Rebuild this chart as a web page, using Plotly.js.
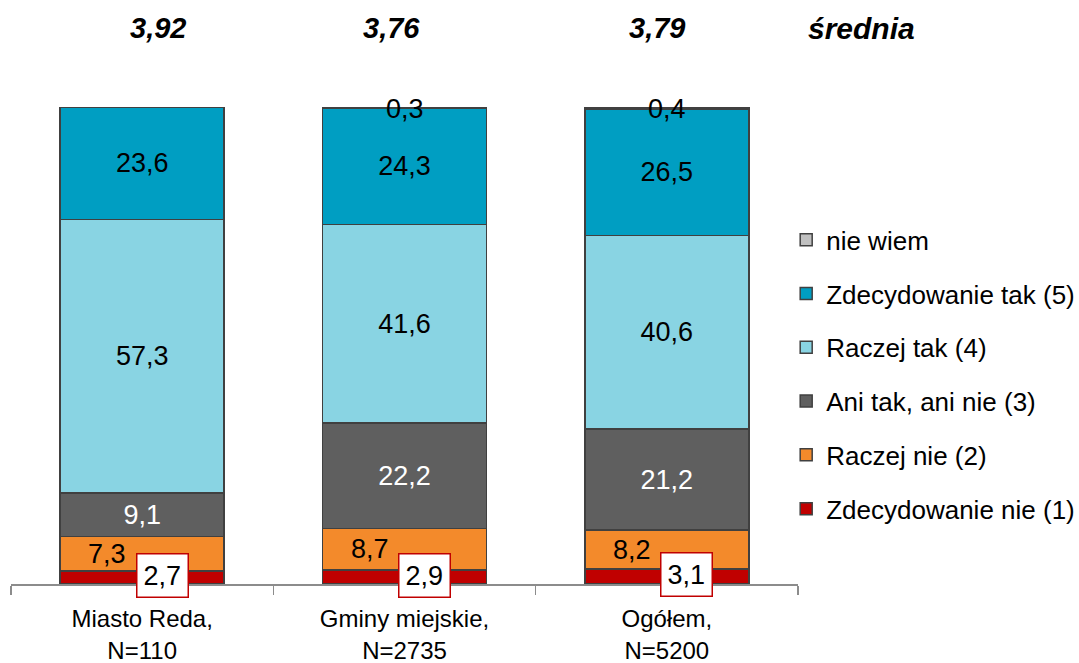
<!DOCTYPE html>
<html>
<head>
<meta charset="utf-8">
<script src="https://cdn.plot.ly/plotly-3.0.1.min.js"></script>
<style>html,body{margin:0;padding:0;background:#fff;}#chart{width:1079px;height:663px;}</style>
</head>
<body>
<div id="chart"></div>
<script>
const categories = ["Miasto Reda,<br>N=110", "Gminy miejskie,<br>N=2735", "Ogółem,<br>N=5200"];
const seriesNames = ["Zdecydowanie nie (1)", "Raczej nie (2)", "Ani tak, ani nie (3)", "Raczej tak (4)", "Zdecydowanie tak (5)", "nie wiem"];
const zdecydowanieNie = [2.7, 2.9, 3.1];
const raczejNie = [7.3, 8.7, 8.2];
const aniTakAniNie = [9.1, 22.2, 21.2];
const raczejTak = [57.3, 41.6, 40.6];
const zdecydowanieTak = [23.6, 24.3, 26.5];
const nieWiem = [0, 0.3, 0.4];
const means = [3.92, 3.76, 3.79];
const meanLabel = "średnia";

const FONT = '"Liberation Sans", Arial, sans-serif';
const fmt = v => v.toFixed(1).replace('.', ',');
const colors = ["#C00000", "#F38A2B", "#5F5F5F", "#89D4E3", "#009EC2", "#C0C0C0"];
const series = [zdecydowanieNie, raczejNie, aniTakAniNie, raczejTak, zdecydowanieTak, nieWiem];
const insideText = [false, false, true, true, true, false];
const textColors = ["#000", "#000", "#fff", "#000", "#000", "#000"];
const LABEL_SIZE = 27;

const traces = series.map((vals, i) => ({
  type: 'bar',
  name: seriesNames[i],
  x: categories,
  y: vals,
  legendgroup: 'g' + i,
  legendrank: 1000 - i,
  marker: {color: colors[i], line: {color: '#404040', width: 1.5}},
  text: insideText[i] ? vals.map(fmt) : undefined,
  textposition: insideText[i] ? 'inside' : 'none',
  insidetextanchor: 'middle',
  textangle: 0,
  constraintext: 'none',
  textfont: {family: FONT, size: LABEL_SIZE, color: textColors[i]},
  hoverinfo: 'skip'
}));

const annotations = [];
categories.forEach((c, k) => {
  annotations.push({
    xref: 'x', yref: 'y', x: c, y: zdecydowanieNie[k] / 2,
    text: fmt(zdecydowanieNie[k]), showarrow: false, xshift: 20, yshift: 2,
    font: {family: FONT, size: LABEL_SIZE, color: '#000'},
    bgcolor: '#fff', bordercolor: '#C00000', borderwidth: 1.5, borderpad: 6
  });
  annotations.push({
    xref: 'x', yref: 'y', x: c, y: zdecydowanieNie[k] + raczejNie[k] / 2,
    text: fmt(raczejNie[k]), showarrow: false, xshift: -35,
    font: {family: FONT, size: LABEL_SIZE, color: '#000'}
  });
  if (nieWiem[k] > 0) {
    const top = zdecydowanieNie[k] + raczejNie[k] + aniTakAniNie[k] + raczejTak[k] + zdecydowanieTak[k] + nieWiem[k];
    annotations.push({
      xref: 'x', yref: 'y', x: c, y: top, yanchor: 'middle',
      text: fmt(nieWiem[k]), showarrow: false, yshift: -2,
      font: {family: FONT, size: LABEL_SIZE, color: '#000'}
    });
  }
});
const meanShift = [16, -13, -10];
categories.forEach((c, k) => {
  annotations.push({
    xref: 'x', yref: 'paper', x: c, y: 1.165, yanchor: 'middle',
    text: '<b><i>' + means[k].toFixed(2).replace('.', ',') + '</i></b>', showarrow: false, xshift: meanShift[k],
    font: {family: FONT, size: 29, color: '#000'}
  });
});
annotations.push({
  xref: 'paper', yref: 'paper', x: 1.0806, y: 1.165, xanchor: 'center', yanchor: 'middle',
  text: '<b><i>' + meanLabel + '</i></b>', showarrow: false,
  font: {family: FONT, size: 30, color: '#000'}
});

const layout = {
  width: 1079, height: 663,
  margin: {l: 11, r: 280.5, t: 107, b: 79, pad: 0, autoexpand: false},
  paper_bgcolor: '#fff', plot_bgcolor: '#fff',
  barmode: 'stack', bargap: 0.375,
  showlegend: true,
  legend: {
    x: 0.985, xanchor: 'left', y: 0.771, yanchor: 'top',
    traceorder: 'grouped', tracegroupgap: 17,
    font: {family: FONT, size: 26, color: '#000'},
    bgcolor: 'rgba(0,0,0,0)'
  },
  xaxis: {
    type: 'category', showgrid: false, zeroline: false,
    showline: true, linecolor: '#8C8C8C', linewidth: 1.5,
    ticks: 'outside', tickson: 'boundaries', ticklen: 9, tickcolor: '#8C8C8C', tickwidth: 1.5,
    ticklabelstandoff: 13,
    tickfont: {family: FONT, size: 24, color: '#000'}
  },
  yaxis: {range: [0, 100], visible: false, showgrid: false, zeroline: false, fixedrange: true},
  annotations: annotations,
  hovermode: false
};

Plotly.newPlot('chart', traces, layout, {displayModeBar: false, staticPlot: true});
</script>
</body>
</html>
